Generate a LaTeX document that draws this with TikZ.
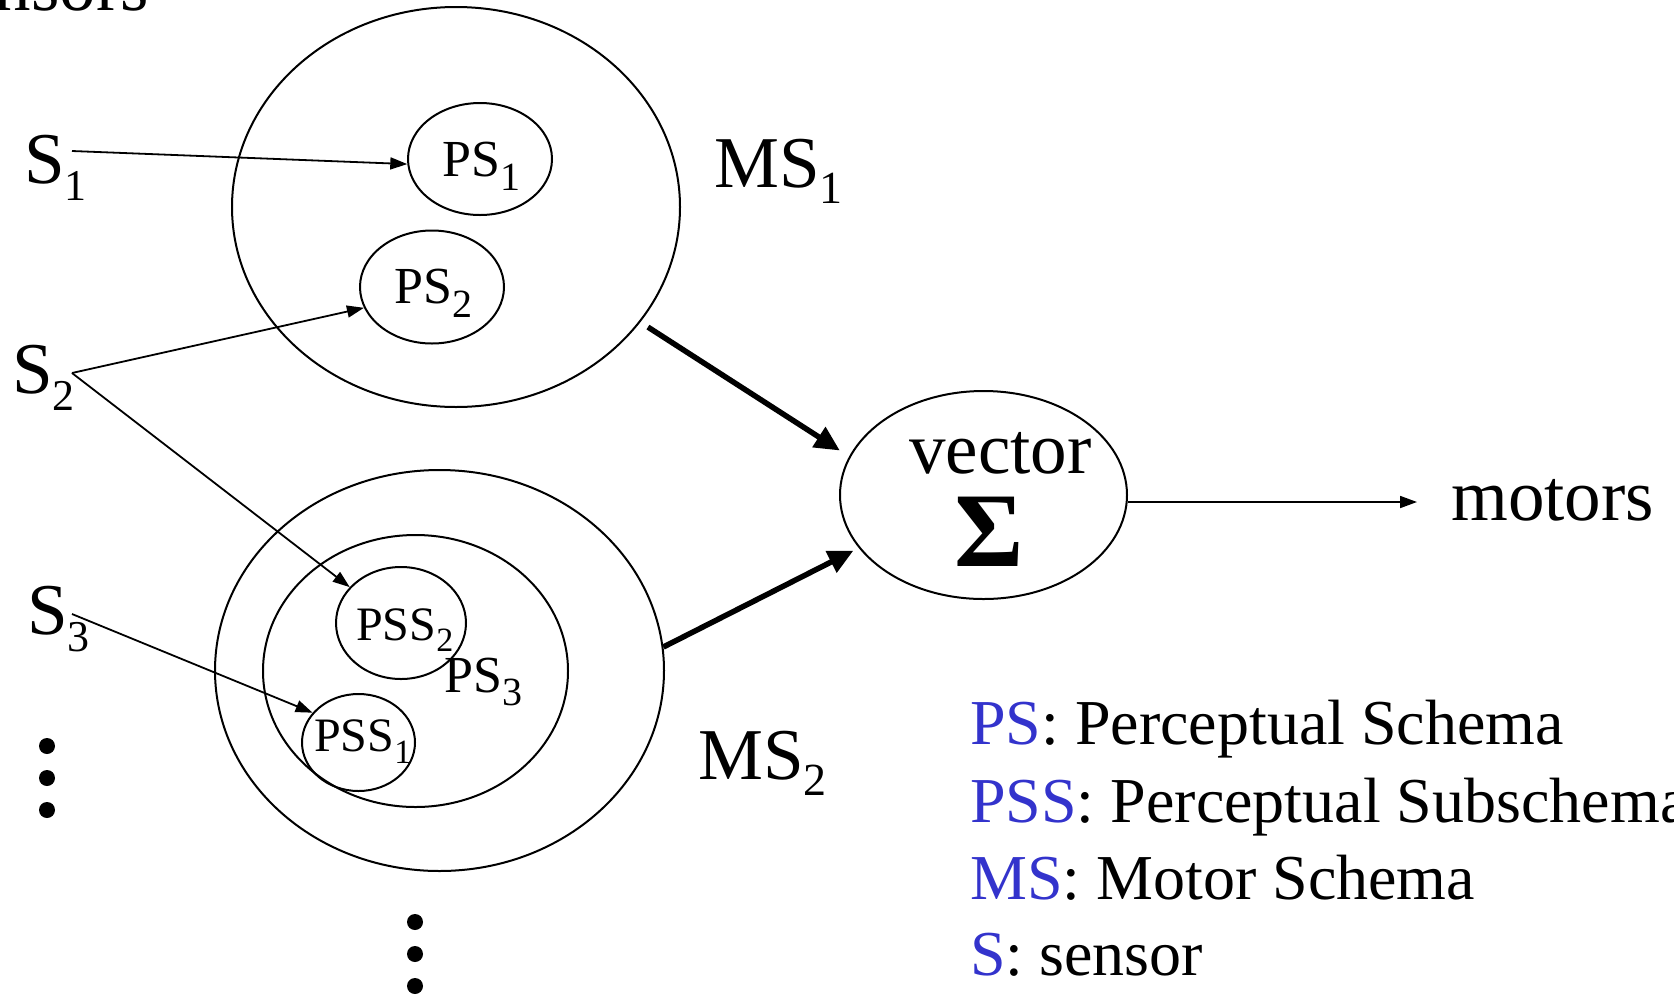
\documentclass[tikz,border=0pt]{standalone}
\usepackage{fontspec}
\setmainfont{Liberation Serif}
\usetikzlibrary{arrows.meta,shapes.geometric}
\definecolor{keyblue}{RGB}{51,51,204}
% main text followed by a lowered index: {text}{index}{index size}{drop}
\newcommand\idx[4]{#1\raisebox{-#4}{\fontsize{#3}{#3}\selectfont #2}}

\begin{document}
\begin{tikzpicture}[x=1pt,y=-1pt,
  schema/.style={draw,ellipse,line width=2pt,inner sep=0pt},
  thinarrow/.style={line width=1.8pt,-{Triangle[length=17pt,width=12pt]}},
  thickarrow/.style={line width=5.5pt,-{Triangle[length=25pt,width=23pt]}},
  big/.style={font=\fontsize{73}{80}\selectfont,inner sep=0pt,anchor=base west},
  pslabel/.style={font=\fontsize{52}{56}\selectfont,inner sep=0pt,anchor=base west},
  psslabel/.style={font=\fontsize{48}{52}\selectfont,inner sep=0pt,anchor=base west},
  keyline/.style={font=\fontsize{64}{70}\selectfont,inner sep=0pt,anchor=base west}]

\useasboundingbox (0,0) rectangle (1674,994);
\clip (0,0) rectangle (1674,994);

% motor schemas and their perceptual schemas
\node[schema,minimum width=448pt,minimum height=400pt] (ms1) at (456,207) {};
\node[schema,minimum width=144pt,minimum height=112pt] (ps1) at (480,159) {};
\node[schema,minimum width=144pt,minimum height=113pt] (ps2) at (432,287) {};
\node[schema,minimum width=449pt,minimum height=401pt] (ms2) at (439.5,670.5) {};
\node[schema,minimum width=305pt,minimum height=272pt] (ps3) at (415.5,671) {};
\node[schema,minimum width=130pt,minimum height=112pt] (pss2) at (401,623) {};
\node[schema,minimum width=113pt,minimum height=97pt] (pss1) at (358.5,742.5) {};
\node[schema,minimum width=287pt,minimum height=208pt] (vec) at (983.5,495) {};

% labels
\node[big,anchor=base east] (sens) at (149,10) {sensors};
\node[big] (s1) at (24,183) {\idx{S}{1}{44}{17pt}};
\node[big] (s2) at (12,393) {\idx{S}{2}{44}{17pt}};
\node[big] (s3) at (27,634) {\idx{S}{3}{44}{17pt}};
\node[big] (ms1lab) at (714,187) {\idx{MS}{1}{46}{16pt}};
\node[big] (ms2lab) at (698,779) {\idx{MS}{2}{46}{16pt}};
\node[pslabel] (ps1lab) at (442,176) {\idx{PS}{1}{40}{14pt}};
\node[pslabel] (ps2lab) at (394,303) {\idx{PS}{2}{40}{14pt}};
\node[pslabel] (ps3lab) at (444,692) {\idx{PS}{3}{40}{13pt}};
\node[psslabel] (pss2lab) at (356,640) {\idx{PSS}{2}{34}{11pt}};
\node[psslabel] (pss1lab) at (314,751) {\idx{PSS}{1}{34}{12pt}};
\node[big] (vtxt) at (909,473) {vector};
\node[font=\fontsize{106}{110}\selectfont\bfseries,inner sep=0pt,anchor=base] (sig) at (989,566) {Σ};
\node[big] (mot) at (1451,520) {motors};

% sensor outputs
\coordinate (s1out) at (72,151);
\coordinate (s2out) at (72,373);
\coordinate (s3out) at (72,614);
\coordinate (motin) at (1417,502);

\draw[thinarrow] (s1out) -- (ps1.184);
\draw[thinarrow] (s2out) -- (ps2.197);
\draw[thinarrow] (s2out) -- (pss2.145);
\draw[thinarrow] (s3out) -- (pss1.147);
\draw[thinarrow] (vec.east |- motin) -- (motin);

% motor schema outputs into the vector sum
\draw[thickarrow,shorten <=9pt,shorten >=11pt] (ms1.-32) -- (vec.164);
\draw[thickarrow,shorten >=6pt] (ms2.6) -- (vec.203);

% further sensors and schemas
\foreach \y in {746,778,810} \fill (47,\y) circle (8pt);
\foreach \y in {922,954,986} \fill (415,\y) circle (8pt);

% key
\node[keyline] (k1) at (970,744) {\textcolor{keyblue}{PS}: Perceptual Schema};
\node[keyline] (k2) at (970,822) {\textcolor{keyblue}{PSS}: Perceptual Subschema};
\node[keyline] (k3) at (970,899) {\textcolor{keyblue}{MS}: Motor Schema};
\node[keyline] (k4) at (970,975) {\textcolor{keyblue}{S}: sensor};
\end{tikzpicture}
\end{document}
